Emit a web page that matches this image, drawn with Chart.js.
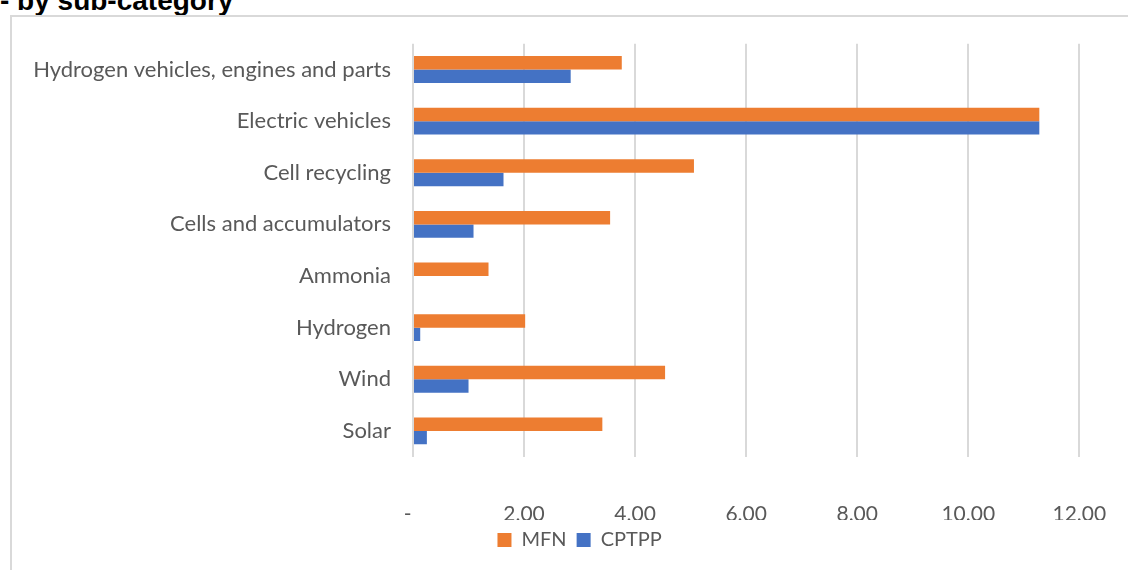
<!DOCTYPE html>
<html>
<head>
<meta charset="utf-8">
<script src="https://cdn.jsdelivr.net/npm/chart.js@4"></script>
<style>
  body { margin: 0; background: #fff; overflow: hidden; width: 1128px; height: 570px; position: relative; }
  #title { position: absolute; left: 0; top: -13px; font: bold 28px/28px "Liberation Sans", Arial, sans-serif; color: #000; white-space: nowrap; }
  #box { position: absolute; left: 10px; top: 15px; width: 1200px; height: 600px; border-left: 2px solid #d9d9d9; border-top: 2px solid #d9d9d9; }
  #wrap { position: absolute; left: 10px; top: 15px; }
</style>
</head>
<body>
<div id="title">- by sub-category</div>
<div id="box"></div>
<div id="wrap"><canvas id="chart" width="1144" height="555"></canvas></div>
<script>
// categories, top to bottom
const categories = [
    'Hydrogen vehicles, engines and parts',
    'Electric vehicles',
    'Cell recycling',
    'Cells and accumulators',
    'Ammonia',
    'Hydrogen',
    'Wind',
    'Solar'
];
const mfnValues = [3.76, 11.28, 5.06, 3.55, 1.36, 2.02, 4.54, 3.41];
const cptppValues = [2.84, 11.28, 1.63, 1.09, 0, 0.13, 1.00, 0.25];
const xTicks = [0, 2, 4, 6, 8, 10, 12];

const textColor = '#595959';
const fontFamily = 'Lato, "Open Sans", sans-serif';

// the legend in the original sits centred under the whole (cut off) chart box,
// not under the plot, so nudge it right
const legendShift = {
    id: 'legendShift',
    afterLayout(chart) {
        if (chart.legend) {
            chart.legend.left += 35;
            chart.legend.right += 35;
        }
    }
};

const config = {
    type: 'bar',
    data: {
        labels: categories,
        datasets: [
            {
                label: 'MFN',
                data: mfnValues,
                backgroundColor: '#ED7D31',
                categoryPercentage: 0.52,
                barPercentage: 1.0
            },
            {
                label: 'CPTPP',
                data: cptppValues,
                backgroundColor: '#4472C4',
                categoryPercentage: 0.52,
                barPercentage: 1.0
            }
        ]
    },
    options: {
        indexAxis: 'y',
        responsive: false,
        devicePixelRatio: 1,
        animation: false,
        layout: {
            padding: { left: 0, right: 74.7, top: 28.7, bottom: 10 }
        },
        scales: {
            x: {
                min: xTicks[0],
                max: xTicks[xTicks.length - 1],
                afterBuildTicks: (scale) => {
                    scale.ticks = xTicks.map(v => ({ value: v }));
                },
                afterFit: (scale) => { scale.height = 63.3; },
                grid: { color: '#d9d9d9', lineWidth: 2, drawTicks: false },
                border: { display: false },
                ticks: {
                    padding: 45.3,
                    color: textColor,
                    font: { family: fontFamily, size: 21 },
                    maxRotation: 0,
                    callback: (v) => v === 0 ? '-  ' : v.toFixed(2)
                }
            },
            y: {
                afterFit: (scale) => {
                    scale.width = 403;
                    scale.paddingTop = 0;
                    scale.paddingBottom = 0;
                },
                grid: { display: false, drawTicks: false },
                border: { display: false },
                ticks: {
                    padding: 22,
                    color: textColor,
                    font: { family: fontFamily, size: 22 }
                }
            }
        },
        plugins: {
            legend: {
                position: 'bottom',
                labels: {
                    boxWidth: 14,
                    boxHeight: 14,
                    color: textColor,
                    font: { family: fontFamily, size: 20 },
                    padding: 10
                }
            },
            tooltip: { enabled: false }
        }
    },
    plugins: [legendShift]
};

new Chart(document.getElementById('chart'), config);
</script>
</body>
</html>
